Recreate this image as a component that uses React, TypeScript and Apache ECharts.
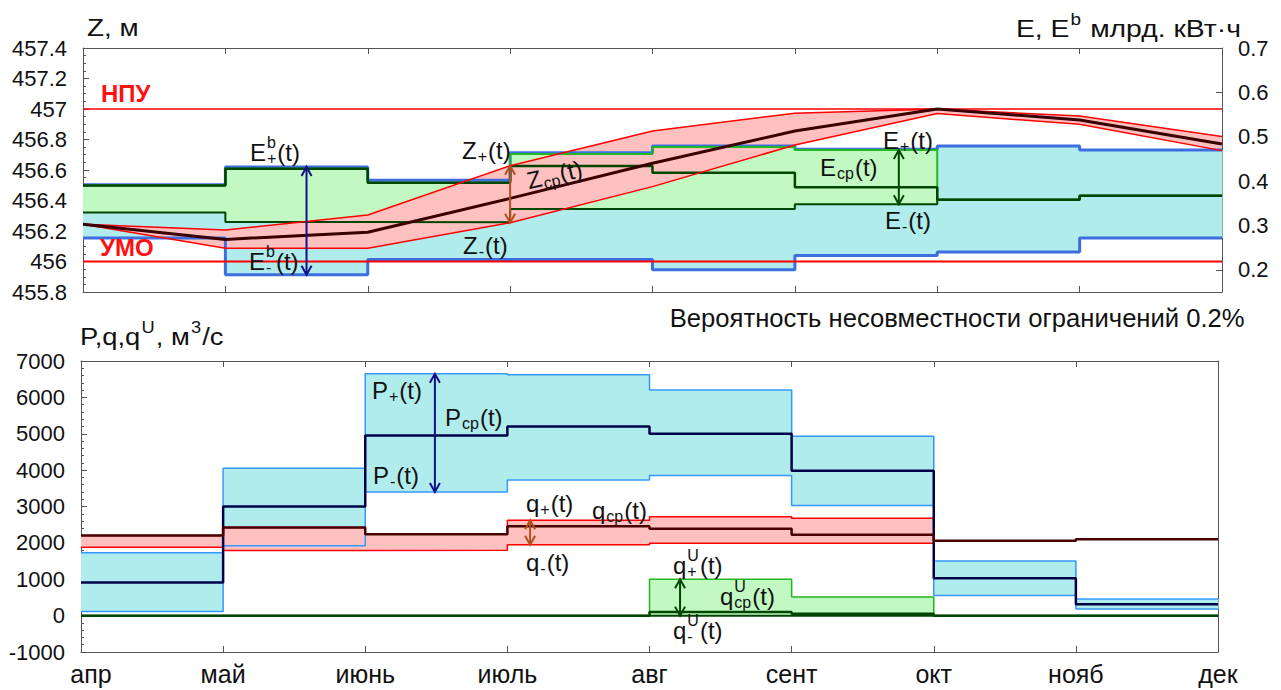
import React, { useEffect, useRef } from "react";
import * as echarts from "echarts";

// ---------- data ----------
const MONTHS = ["апр", "май", "июнь", "июль", "авг", "сент", "окт", "нояб", "дек"];

// Reservoir level Z (m) at month boundaries
const Z_UP = [456.245, 456.207, 456.305, 456.628, 456.856, 456.972, 457.0, 456.954, 456.82];
const Z_CP = [456.245, 456.145, 456.192, 456.414, 456.644, 456.856, 457.0, 456.928, 456.77];
const Z_LO = [456.245, 456.087, 456.087, 456.254, 456.491, 456.764, 456.97, 456.9, 456.727];
const Z_NPU = 457;
const Z_UMO = 456;

// Energy per month (bn kWh)
const EB_HI = [0.392, 0.432, 0.402, 0.464, 0.479, 0.472, 0.479, 0.47];
const EB_LO = [0.272, 0.189, 0.223, 0.223, 0.2, 0.232, 0.24, 0.272];
const E_HI = [0.39, 0.428, 0.396, 0.461, 0.477, 0.47, 0.358, 0.367];
const E_CP = [0.39, 0.428, 0.396, 0.434, 0.419, 0.386, 0.358, 0.367];
const E_LO = [0.329, 0.308, 0.307, 0.337, 0.337, 0.348, 0.358, 0.367];

// Flows per month (m3/s)
const P_HI = [1730, 4050, 6650, 6620, 6200, 4930, 1500, 460];
const P_CP = [910, 3000, 4950, 5200, 5000, 3980, 1030, 310];
const P_LO = [110, 1920, 3400, 3730, 3850, 3030, 550, 180];
const Q_HI = [2200, 2420, 2240, 2620, 2720, 2680, 2060, 2100];
const Q_CP = [2200, 2420, 2240, 2460, 2390, 2220, 2060, 2100];
const Q_LO = [1880, 1790, 1800, 1950, 1990, 1990, 2060, 2100];
const QU_HI = [0, 0, 0, 0, 1000, 510, 0, 0];
const QU_CP = [0, 0, 0, 0, 100, 50, 0, 0];
const QU_LO = [0, 0, 0, 0, 0, 0, 0, 0];

const E_TICKS = [0.2, 0.3, 0.4, 0.5, 0.6, 0.7];

// arrow positions (in month units)
const ARROW_EB_X = 1.57;
const ARROW_Z_X = 3;
const ARROW_E_X = 5.73;
const ARROW_P_X = 2.49;
const ARROW_Q_X = 3.16;
const ARROW_QU_X = 4.215;

// ---------- styles ----------
const FONT = "Liberation Sans, Arial, sans-serif";
const C_CYAN = "#b0ecec";
const C_GREEN_FILL = "#c2f9c2";
const C_PINK = "#ffc0c0";
const C_EB = "#3d6ee0";
const C_P = "#3399ff";
const C_GREEN = "#22b822";
const C_DGREEN = "#004600";
const C_RED = "#ff0000";
const C_ZCP = "#3a0000";
const C_QCP = "#4a0000";
const C_NAVY = "#000048";
const C_ARROW_NAVY = "#10108a";
const C_BROWN = "#b0501a";
const AX = "#555";

// ---------- helpers ----------
const stepPts = (v: number[]) => [...v.map((y, i) => [i, y]), [v.length, v[v.length - 1]]];
const linePts = (v: number[]) => v.map((y, i) => [i, y]);

function bandSeries(lo: number[], hi: number[], fill: string, xi: number, yi: number) {
  return {
    type: "custom",
    coordinateSystem: "cartesian2d",
    xAxisIndex: xi,
    yAxisIndex: yi,
    silent: true,
    z: 1,
    data: lo.map((l, i) => [i, l, hi[i]]),
    encode: { x: 0, y: [1, 2] },
    renderItem: (params: any, api: any) => {
      const i = api.value(0);
      const a = api.coord([i, api.value(2)]);
      const b = api.coord([i + 1, api.value(1)]);
      return {
        type: "rect",
        shape: { x: a[0], y: a[1], width: b[0] - a[0] + 0.6, height: b[1] - a[1] },
        style: { fill },
      };
    },
  };
}

function polyBandSeries(lo: number[], hi: number[], fill: string, xi: number, yi: number) {
  return {
    type: "custom",
    coordinateSystem: "cartesian2d",
    xAxisIndex: xi,
    yAxisIndex: yi,
    silent: true,
    z: 1,
    data: lo.map((l, i) => [i, l, hi[i]]),
    encode: { x: 0, y: [1, 2] },
    renderItem: (params: any, api: any) => {
      if (params.dataIndex !== 0) return { type: "group", children: [] };
      const up = hi.map((v, i) => api.coord([i, v]));
      const dn = lo.map((v, i) => api.coord([i, v])).reverse();
      return { type: "polygon", shape: { points: [...up, ...dn] }, style: { fill } };
    },
  };
}

function stepLine(v: number[], color: string, width: number, xi: number, yi: number) {
  return {
    type: "line",
    xAxisIndex: xi,
    yAxisIndex: yi,
    data: stepPts(v),
    step: "end",
    symbol: "none",
    silent: true,
    z: 3,
    lineStyle: { color, width },
  };
}

function plainLine(v: number[], color: string, width: number, xi: number, yi: number) {
  return {
    type: "line",
    xAxisIndex: xi,
    yAxisIndex: yi,
    data: linePts(v),
    symbol: "none",
    silent: true,
    z: 3,
    lineStyle: { color, width },
  };
}

function arrowSeries(rows: number[][], color: string, xi: number, yi: number) {
  return {
    type: "custom",
    coordinateSystem: "cartesian2d",
    xAxisIndex: xi,
    yAxisIndex: yi,
    silent: true,
    z: 5,
    data: rows,
    encode: { x: 0, y: [1, 2] },
    renderItem: (params: any, api: any) => {
      const t = api.coord([api.value(0), api.value(2)]);
      const b = api.coord([api.value(0), api.value(1)]);
      const hw = 5;
      const hl = Math.min(9, Math.abs(b[1] - t[1]) / 2);
      const st = { stroke: color, lineWidth: 2, fill: "none" };
      return {
        type: "group",
        children: [
          { type: "line", shape: { x1: t[0], y1: t[1], x2: b[0], y2: b[1] }, style: st },
          { type: "polyline", shape: { points: [[t[0] - hw, t[1] + hl], [t[0], t[1]], [t[0] + hw, t[1] + hl]] }, style: st },
          { type: "polyline", shape: { points: [[b[0] - hw, b[1] - hl], [b[0], b[1]], [b[0] + hw, b[1] - hl]] }, style: st },
        ],
      };
    },
  };
}

let measureCtx: CanvasRenderingContext2D | null = null;
function tw(s: string, size: number, weight = "normal") {
  if (!measureCtx) measureCtx = document.createElement("canvas").getContext("2d");
  measureCtx!.font = `${weight} ${size}px ${FONT}`;
  return measureCtx!.measureText(s).width;
}

type Item = string | { sup?: string; sub?: string };
function richLabel(
  items: Item[],
  x: number,
  y: number,
  opt: {
    size?: number;
    small?: number;
    color?: string;
    weight?: string;
    rotation?: number;
    alignRight?: boolean;
    scaleX?: number;
  } = {}
) {
  const F = opt.size ?? 24;
  const S = opt.small ?? 16;
  const color = opt.color ?? "#111";
  const weight = opt.weight ?? "normal";
  const sx = opt.scaleX ?? 1;
  const children: any[] = [];
  let cx = 0;
  const txt = (t: string, px: number, py: number, size: number) => ({
    type: "text",
    x: px,
    y: py,
    z: 100,
    zlevel: 0,
    style: {
      text: t,
      fontSize: size,
      fontFamily: FONT,
      fontWeight: weight,
      fill: color,
      align: "left",
      verticalAlign: "middle",
      textAlign: "left",
      textVerticalAlign: "middle",
    },
  });
  for (const it of items) {
    if (typeof it === "string") {
      children.push(txt(it, cx, 0, F));
      cx += tw(it, F, weight);
    } else {
      let w = 0;
      if (it.sup) {
        children.push(txt(it.sup, cx + 1, -F * 0.4, S));
        w = Math.max(w, tw(it.sup, S));
      }
      if (it.sub) {
        children.push(txt(it.sub, cx + 1, F * 0.26, S));
        w = Math.max(w, tw(it.sub, S));
      }
      cx += w + 2;
    }
  }
  return {
    type: "group",
    x: opt.alignRight ? x - cx * sx : x,
    y,
    z: 100,
    scaleX: sx,
    rotation: opt.rotation ?? 0,
    children,
  };
}

// ---------- component ----------
export default function App() {
  const ref = useRef<HTMLDivElement>(null);

  useEffect(() => {
    if (!ref.current) return;
    const chart = echarts.init(ref.current, undefined, { renderer: "svg" });

    const xBase = (gridIndex: number, position: string, labels: boolean) => ({
      type: "value",
      gridIndex,
      position,
      min: 0,
      max: 8,
      interval: 1,
      axisLine: { show: true, onZero: false, lineStyle: { color: AX, width: 1 } },
      axisTick: { show: true, inside: true, length: 6, lineStyle: { color: AX } },
      axisLabel: labels
        ? {
            show: true,
            fontSize: 25,
            color: "#111",
            fontFamily: FONT,
            margin: 9,
            formatter: (v: number) => {
              const i = Math.round(v);
              const s = MONTHS[i] ?? "";
              return i === 0 ? `{first|${s}}` : s;
            },
            rich: { first: { fontSize: 25, fontFamily: FONT, color: "#111", padding: [0, 0, 0, 20] } },
          }
        : { show: false },
      splitLine: { show: false },
    });

    const option: any = {
      animation: false,
      backgroundColor: "#fff",
      textStyle: { fontFamily: FONT },
      grid: [
        { left: 83, top: 48, width: 1139, height: 244, show: false },
        { left: 81, top: 361, width: 1137, height: 291, show: false },
      ],
      xAxis: [xBase(0, "bottom", false), xBase(0, "top", false), xBase(1, "bottom", true), xBase(1, "top", false)],
      yAxis: [
        {
          type: "value",
          gridIndex: 0,
          position: "left",
          min: 455.8,
          max: 457.4,
          interval: 0.2,
          axisLine: { show: true, onZero: false, lineStyle: { color: AX } },
          axisTick: { show: true, inside: true, length: 6, lineStyle: { color: AX } },
          minorTick: { show: true, splitNumber: 4, length: 3, lineStyle: { color: AX } },
          axisLabel: {
            fontSize: 22,
            color: "#111",
            fontFamily: FONT,
            margin: 16,
            formatter: (v: number) => String(+v.toFixed(1)),
          },
          splitLine: { show: false },
        },
        {
          type: "value",
          gridIndex: 0,
          position: "right",
          min: 0.15,
          max: 0.7,
          axisLine: { show: true, onZero: false, lineStyle: { color: AX } },
          axisTick: { show: true, inside: true, length: 6, lineStyle: { color: AX }, customValues: E_TICKS },
          axisLabel: {
            fontSize: 22,
            color: "#111",
            fontFamily: FONT,
            margin: 16,
            customValues: E_TICKS,
            formatter: (v: number) => v.toFixed(1),
          },
          splitLine: { show: false },
        },
        {
          type: "value",
          gridIndex: 1,
          position: "left",
          min: -1000,
          max: 7000,
          interval: 1000,
          axisLine: { show: true, onZero: false, lineStyle: { color: AX } },
          axisTick: { show: true, inside: true, length: 6, lineStyle: { color: AX } },
          minorTick: { show: true, splitNumber: 5, length: 3, lineStyle: { color: AX } },
          axisLabel: {
            fontSize: 22,
            color: "#111",
            fontFamily: FONT,
            margin: 16,
            formatter: (v: number) => String(Math.round(v)),
          },
          splitLine: { show: false },
        },
        {
          type: "value",
          gridIndex: 1,
          position: "right",
          min: -1000,
          max: 7000,
          interval: 1000,
          axisLine: { show: true, onZero: false, lineStyle: { color: AX } },
          axisTick: { show: false },
          axisLabel: { show: false },
          splitLine: { show: false },
        },
      ],
      series: [
        // ----- top plot fills -----
        bandSeries(EB_LO, EB_HI, C_CYAN, 0, 1),
        bandSeries(E_LO, E_HI, C_GREEN_FILL, 0, 1),
        polyBandSeries(Z_LO, Z_UP, C_PINK, 0, 0),
        // energy lines
        stepLine(EB_HI, C_EB, 3, 0, 1),
        stepLine(EB_LO, C_EB, 3, 0, 1),
        stepLine(E_HI, C_GREEN, 2, 0, 1),
        stepLine(E_LO, C_DGREEN, 2, 0, 1),
        stepLine(E_CP, C_DGREEN, 2.5, 0, 1),
        // reference levels
        plainLine([Z_NPU, Z_NPU, Z_NPU, Z_NPU, Z_NPU, Z_NPU, Z_NPU, Z_NPU, Z_NPU], C_RED, 1.5, 0, 0),
        plainLine([Z_UMO, Z_UMO, Z_UMO, Z_UMO, Z_UMO, Z_UMO, Z_UMO, Z_UMO, Z_UMO], C_RED, 1.8, 0, 0),
        // level lines
        plainLine(Z_UP, C_RED, 1.5, 0, 0),
        plainLine(Z_LO, C_RED, 1.5, 0, 0),
        plainLine(Z_CP, C_ZCP, 3, 0, 0),
        // top arrows
        arrowSeries([[ARROW_EB_X, EB_LO[1], EB_HI[1]]], C_ARROW_NAVY, 0, 1),
        arrowSeries([[ARROW_Z_X, Z_LO[3], Z_UP[3]]], C_BROWN, 0, 0),
        arrowSeries([[ARROW_E_X, E_LO[5], E_HI[5]]], C_DGREEN, 0, 1),

        // ----- bottom plot -----
        bandSeries(P_LO, P_HI, C_CYAN, 2, 2),
        bandSeries(Q_LO, Q_HI, C_PINK, 2, 2),
        bandSeries(QU_LO, QU_HI, C_GREEN_FILL, 2, 2),
        stepLine(P_HI, C_P, 1.5, 2, 2),
        stepLine(P_LO, C_P, 1.5, 2, 2),
        stepLine(Q_HI, C_RED, 1.5, 2, 2),
        stepLine(Q_LO, C_RED, 1.5, 2, 2),
        stepLine(QU_HI, C_GREEN, 1.5, 2, 2),
        stepLine(P_CP, C_NAVY, 2.5, 2, 2),
        stepLine(Q_CP, C_QCP, 2.5, 2, 2),
        stepLine(QU_LO, C_DGREEN, 2, 2, 2),
        stepLine(QU_CP, C_DGREEN, 2.5, 2, 2),
        arrowSeries([[ARROW_P_X, P_LO[2], P_HI[2]]], C_ARROW_NAVY, 2, 2),
        arrowSeries([[ARROW_Q_X, Q_LO[3], Q_HI[3]]], C_BROWN, 2, 2),
        arrowSeries([[ARROW_QU_X, QU_LO[4], QU_HI[4]]], C_DGREEN, 2, 2),
      ],
      graphic: {
        elements: [
          richLabel(["Z, м"], 87, 28, { scaleX: 1.16 }),
          richLabel(["E, E", { sup: "b" }, " млрд. кВт·ч"], 1241, 29, { alignRight: true, scaleX: 1.18 }),
          richLabel(["P,q,q", { sup: "U" }, ", м", { sup: "3" }, "/с"], 80, 337, { scaleX: 1.14 }),
          richLabel(["Вероятность несовместности ограничений 0.2%"], 1245, 318, { alignRight: true, size: 25, scaleX: 1.025 }),
          richLabel(["НПУ"], 101, 93, { color: "#ff1010", weight: "bold" }),
          richLabel(["УМО"], 100, 247, { color: "#ff1010", weight: "bold" }),
          richLabel(["E", { sup: "b", sub: "+" }, "(t)"], 250, 152),
          richLabel(["E", { sup: "b", sub: "-" }, "(t)"], 249, 261),
          richLabel(["Z", { sub: "+" }, "(t)"], 462, 150),
          richLabel(["Z", { sub: "cp" }, "(t)"], 527, 181, { rotation: (13 * Math.PI) / 180 }),
          richLabel(["Z", { sub: "-" }, "(t)"], 463, 245),
          richLabel(["E", { sub: "+" }, "(t)"], 883, 140),
          richLabel(["E", { sub: "cp" }, "(t)"], 820, 167),
          richLabel(["E", { sub: "-" }, "(t)"], 885, 220),
          richLabel(["P", { sub: "+" }, "(t)"], 372, 390),
          richLabel(["P", { sub: "cp" }, "(t)"], 445, 417),
          richLabel(["P", { sub: "-" }, "(t)"], 373, 475),
          richLabel(["q", { sub: "+" }, "(t)"], 526, 503),
          richLabel(["q", { sub: "cp" }, "(t)"], 592, 510),
          richLabel(["q", { sub: "-" }, "(t)"], 526, 562),
          richLabel(["q", { sup: "U", sub: "+" }, "(t)"], 673, 565),
          richLabel(["q", { sup: "U", sub: "cp" }, "(t)"], 720, 596),
          richLabel(["q", { sup: "U", sub: "-" }, "(t)"], 673, 630),
        ],
      },
    };

    chart.setOption(option);
    return () => chart.dispose();
  }, []);

  return (
    <div
      ref={ref}
      style={{ position: "fixed", left: 0, top: 0, width: 1281, height: 690, background: "#fff" }}
    />
  );
}
